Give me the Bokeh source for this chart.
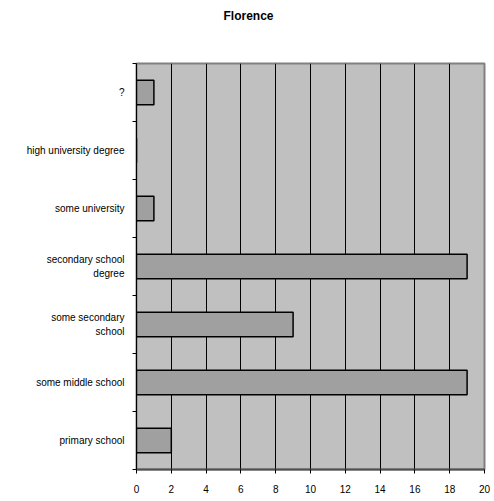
from bokeh.plotting import figure
from bokeh.models import FixedTicker, Range1d, ColumnDataSource, Title
from bokeh.embed import file_html
from bokeh.resources import INLINE

title_text = "Florence"
categories = ["primary school", "some middle school", "some secondary\nschool",
              "secondary school\ndegree", "some university", "high university degree", "?"]
counts = [2, 19, 9, 19, 1, 0, 1]
x_ticks = [0, 2, 4, 6, 8, 10, 12, 14, 16, 18, 20]

pos = [i + 0.5 for i in range(len(categories))]
src = ColumnDataSource(dict(y=pos, right=counts))

p = figure(width=490, height=498, output_backend="svg", toolbar_location=None,
           x_range=Range1d(0, 20), y_range=Range1d(0, len(categories)),
           min_border_left=136, min_border_right=6, min_border_top=63, min_border_bottom=29)

p.title.text = title_text
p.title.align = "left"
p.title.text_font = "Liberation Sans"
p.title.text_font_size = "12px"
p.title.text_font_style = "bold"
p.title.text_color = "black"
p.title.offset = 87
p.title.standoff = 0

# spacer between the title and the plot frame
p.add_layout(Title(text=" ", text_font_size="12px", standoff=25), "above")

p.background_fill_color = "#c0c0c0"
p.outline_line_color = "#808080"
p.outline_line_width = 2

p.hbar(y="y", right="right", left=0, height=0.42, source=src,
       fill_color="#a0a0a0", line_color="black", line_width=1.5)

p.xaxis.ticker = FixedTicker(ticks=x_ticks)
p.xaxis.major_label_text_font = "Liberation Sans"
p.xaxis.major_label_text_font_size = "10px"
p.xaxis.major_label_text_color = "black"
p.xaxis.axis_line_color = "#505050"
p.xaxis.axis_line_width = 2
p.xaxis.major_tick_in = 0
p.xaxis.major_tick_out = 4
p.xaxis.major_tick_line_color = "black"
p.xaxis.minor_tick_line_color = None
p.xaxis.major_label_standoff = 11

p.yaxis.ticker = FixedTicker(ticks=pos, minor_ticks=list(range(len(categories) + 1)))
p.yaxis.major_label_overrides = {pos[i]: categories[i] for i in range(len(categories))}
p.yaxis.major_label_text_font = "Liberation Sans"
p.yaxis.major_label_text_font_size = "10px"
p.yaxis.major_label_text_color = "black"
p.yaxis.axis_line_color = "black"
p.yaxis.major_tick_line_color = None
p.yaxis.minor_tick_in = 0
p.yaxis.minor_tick_out = 4
p.yaxis.minor_tick_line_color = "black"
p.yaxis.major_label_standoff = 6

p.xgrid.ticker = FixedTicker(ticks=x_ticks[1:-1])
p.xgrid.grid_line_color = "black"
p.xgrid.grid_line_width = 1
p.ygrid.grid_line_color = None

open("out.html", "w").write(file_html(p, INLINE))
